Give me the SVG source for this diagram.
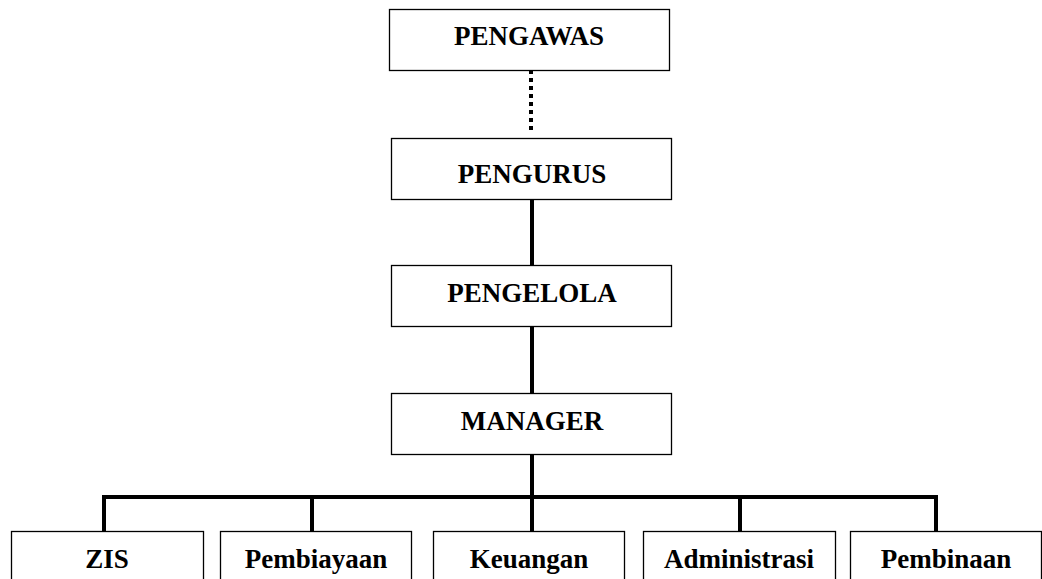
<svg xmlns="http://www.w3.org/2000/svg" width="1042" height="579" viewBox="0 0 1042 579">
<style>
.box{fill:#fff;stroke:#000;stroke-width:1.3}
.t{font-family:"Liberation Serif","Times New Roman",serif;font-weight:bold;font-size:27px;text-anchor:middle;fill:#000}
.ln{stroke:#000;stroke-width:4;fill:none}
.dot{stroke:#000;stroke-width:4;fill:none;stroke-dasharray:4,4}
</style>
<rect width="1042" height="579" fill="#fff"/>
<g id="connectors">
<line class="dot" x1="531" y1="70" x2="531" y2="134"/>
<line class="ln" x1="532" y1="199" x2="532" y2="265"/>
<line class="ln" x1="532" y1="327" x2="532" y2="393"/>
<line class="ln" x1="532" y1="454" x2="532" y2="531"/>
<polyline class="ln" points="104,531 104,497 936,497 936,531"/>
<line class="ln" x1="312" y1="497" x2="312" y2="531"/>
<line class="ln" x1="740" y1="497" x2="740" y2="531"/>
</g>
<g id="pengawas"><rect class="box" x="389.5" y="9.5" width="280" height="61"/><text class="t" x="529" y="45">PENGAWAS</text></g>
<g id="pengurus"><rect class="box" x="391.5" y="138.5" width="280" height="61"/><text class="t" x="532" y="183">PENGURUS</text></g>
<g id="pengelola"><rect class="box" x="391.5" y="265.5" width="280" height="61"/><text class="t" x="532" y="302">PENGELOLA</text></g>
<g id="manager"><rect class="box" x="391.5" y="393.5" width="280" height="61"/><text class="t" x="532" y="430">MANAGER</text></g>
<g id="zis"><rect class="box" x="11.5" y="531.5" width="192" height="60"/><text class="t" x="107" y="568">ZIS</text></g>
<g id="pembiayaan"><rect class="box" x="220.5" y="531.5" width="191" height="60"/><text class="t" x="316" y="568">Pembiayaan</text></g>
<g id="keuangan"><rect class="box" x="433.5" y="531.5" width="191" height="60"/><text class="t" x="529" y="568">Keuangan</text></g>
<g id="administrasi"><rect class="box" x="643.5" y="531.5" width="192" height="60"/><text class="t" x="739" y="568">Administrasi</text></g>
<g id="pembinaan"><rect class="box" x="850.5" y="531.5" width="191" height="60"/><text class="t" x="946" y="568">Pembinaan</text></g>
</svg>
